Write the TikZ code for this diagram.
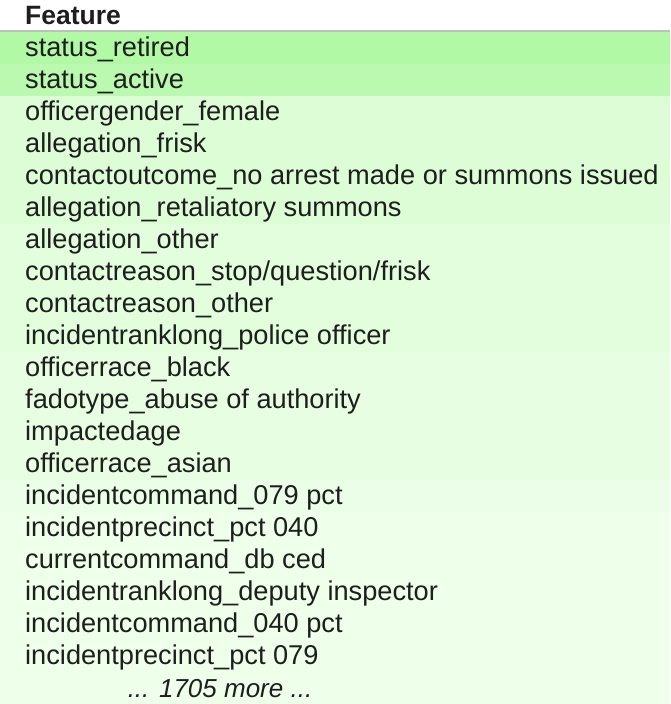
\documentclass[tikz,border=0pt]{standalone}
\usepackage{fontspec}
\setmainfont{Liberation Sans}
\usepackage{tikz}
\definecolor{gA}{HTML}{B2F9A5}
\definecolor{gB}{HTML}{BAF9AF}
\definecolor{gC}{HTML}{DCFDD5}
\definecolor{gD}{HTML}{E2FEDC}
\definecolor{gE}{HTML}{E8FEE3}
\definecolor{gF}{HTML}{EBFFE8}
\definecolor{gG}{HTML}{EEFFEA}
\definecolor{rulegray}{HTML}{BFBFBF}
\definecolor{ink}{HTML}{1E1E1E}
\tikzset{
  feat/.style={anchor=west, inner sep=0pt, text=ink, font=\fontsize{27.2}{27.2}\selectfont},
}

\begin{document}
\begin{tikzpicture}[x=1pt, y=-1pt]
        \useasboundingbox (0,0) rectangle (670,704);
        % row backgrounds
        \foreach \r/\c in {1/gA, 2/gB, 3/gC, 4/gC, 5/gC, 6/gC, 7/gD, 8/gD, 9/gD, 10/gD, 11/gE, 12/gE, 13/gE, 14/gE, 15/gF, 16/gG, 17/gG, 18/gG, 19/gG, 20/gG, 21/gG}
            \fill[\c] (0,{32*\r}) rectangle (670,{32*\r+32});
        \draw[rulegray, line width=2pt] (0,31) -- (670,31);
        \node[feat, font=\fontsize{26.5}{26.5}\selectfont\bfseries] (head) at (25,16) {Feature};
        \foreach \i/\t in {1/status\_retired, 2/status\_active, 3/officergender\_female, 4/allegation\_frisk,
            5/contactoutcome\_no arrest made or summons issued, 6/allegation\_retaliatory summons,
            7/allegation\_other, 8/{contactreason\_stop/question/frisk}, 9/contactreason\_other,
            10/incidentranklong\_police officer, 11/officerrace\_black, 12/fadotype\_abuse of authority,
            13/impactedage, 14/officerrace\_asian, 15/incidentcommand\_079 pct, 16/incidentprecinct\_pct 040,
            17/currentcommand\_db ced, 18/incidentranklong\_deputy inspector, 19/incidentcommand\_040 pct,
            20/incidentprecinct\_pct 079}
            \node[feat] (row\i) at (25,{17.5+32*\i}) {\t};
        \node[feat, anchor=center, font=\fontsize{26}{26}\selectfont\itshape] (more) at (220,689) {... 1705 more ...};
    \end{tikzpicture}
\end{document}
